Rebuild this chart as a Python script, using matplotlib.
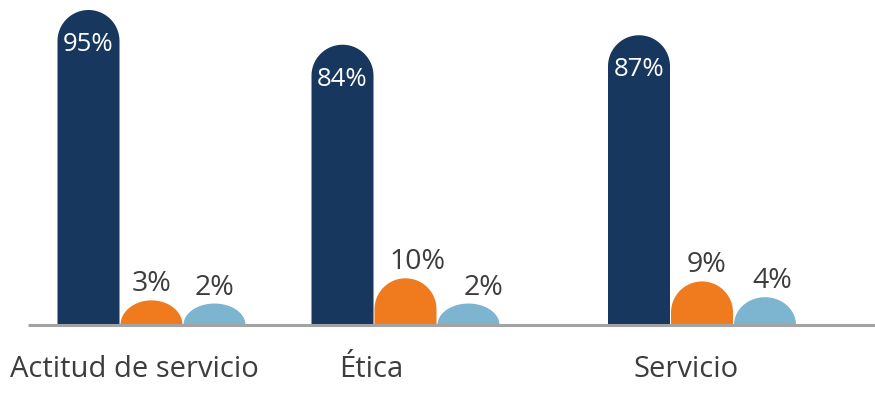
import numpy as np
import matplotlib
matplotlib.use("Agg")
import matplotlib.pyplot as plt
from matplotlib.patches import Polygon

# ---- data ----
categories = ["Actitud de servicio", "Ética", "Servicio"]
series_navy = [95, 84, 87]
series_orange = [3, 10, 9]
series_blue = [2, 2, 4]
series = [series_navy, series_orange, series_blue]

# ---- layout / style ----
colors = ["#17375e", "#ef7b1e", "#7db4cf"]
FONT = "Open Sans"
W, H, DPI = 875, 395, 100
group_centers_px = [151.5, 405.5, 702.0]    # centre of middle bar in each group
label_centers_px = [134.5, 371.0, 686.5]
bar_step_px = 63.0
bar_width_px = 62.0
label_dx_px = [[0, 0, 0], [0, 12, 15], [0, 5, 7]]   # small horizontal nudges of value labels
base = -4.8                                          # bars start slightly below zero
units_per_px = (95 - base) / 315.0
ymin = base - 70 * units_per_px
ymax = 95 + 10 * units_per_px

fig = plt.figure(figsize=(W / DPI, H / DPI), dpi=DPI)
ax = fig.add_axes([0, 0, 1, 1])
ax.set_xlim(0, W)
ax.set_ylim(ymin, ymax)
ax.axis("off")

r_x = bar_width_px / 2
r_y = r_x * units_per_px

for gi, gc in enumerate(group_centers_px):
    for si, vals in enumerate(series):
        v = vals[gi]
        xc = gc + (si - 1) * bar_step_px
        x0, x1 = xc - r_x, xc + r_x
        top = v
        h = top - base
        cap = min(r_y, h)
        t = np.linspace(np.pi, 0, 60)
        arc = np.column_stack([xc + r_x * np.cos(t), top - cap + cap * np.sin(t)])
        pts = np.vstack([[x0, base], arc, [x1, base]])
        ax.add_patch(Polygon(pts, closed=True, facecolor=colors[si], edgecolor="none", zorder=2))
        if si == 0:
            ax.text(xc + label_dx_px[gi][si], top - 41 * units_per_px, f"{v}%", color="white",
                    ha="center", va="baseline", fontsize=18.5, family=FONT, zorder=4)
        else:
            ax.text(xc + label_dx_px[gi][si], top + 9 * units_per_px, f"{v}%", color="#3d3d3d",
                    ha="center", va="baseline", fontsize=20.5, family=FONT, zorder=4)

# baseline
ax.plot([28, W], [base, base], color="#a3a3a3", lw=2.2, solid_capstyle="butt", zorder=3)

for lc, cat in zip(label_centers_px, categories):
    ax.text(lc, base - 52 * units_per_px, cat, color="#3d3d3d", ha="center", va="baseline",
            fontsize=21, family=FONT)

fig.savefig("out.png", dpi=DPI)
